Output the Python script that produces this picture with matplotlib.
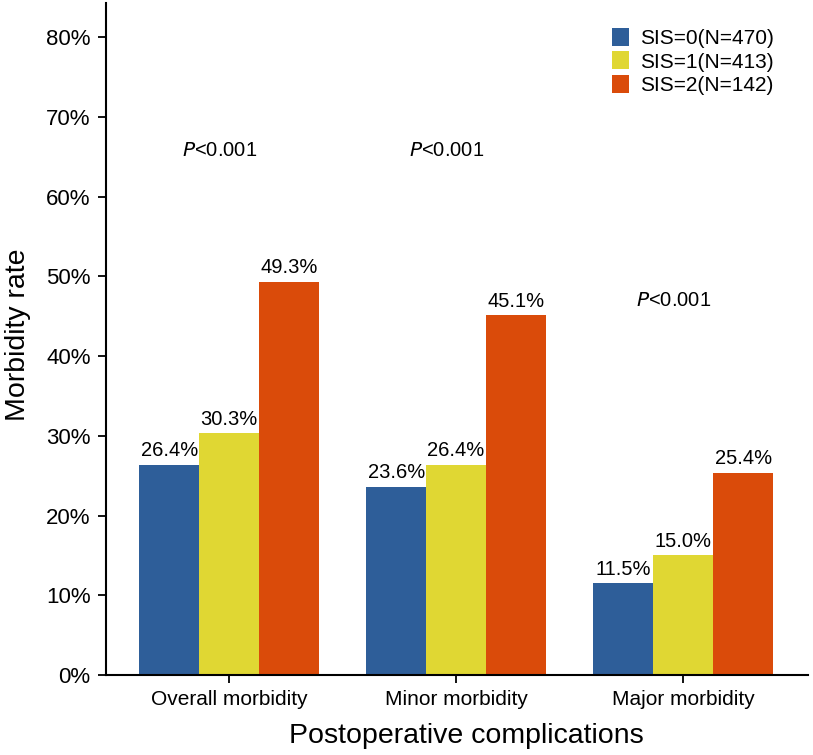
"""Grouped bar chart: morbidity rate by SIS group."""

import matplotlib
matplotlib.use("Agg")
import matplotlib.pyplot as plt
import numpy as np
from matplotlib.ticker import FuncFormatter

plt.rcParams["font.family"] = ["Liberation Sans", "DejaVu Sans"]

categories = ["Overall morbidity", "Minor morbidity", "Major morbidity"]
series_labels = ["SIS=0(N=470)", "SIS=1(N=413)", "SIS=2(N=142)"]
sis0 = [26.4, 23.6, 11.5]
sis1 = [30.3, 26.4, 15.0]
sis2 = [49.3, 45.1, 25.4]
p_labels = ["<0.001", "<0.001", "<0.001"]
p_heights = [65.8, 65.8, 47.0]

COLORS = ["#2E5E99", "#E0D733", "#DA4B0A"]


def main() -> None:
    fig = plt.figure(figsize=(8.13, 7.55), dpi=100)
    ax = fig.add_axes([0.1304, 0.106, 0.8635, 0.89])

    x = np.arange(len(categories))
    width = 0.264
    for i, (vals, label, color) in enumerate(zip([sis0, sis1, sis2], series_labels, COLORS)):
        pos = x + (i - 1) * width
        ax.bar(pos, vals, width, color=color, label=label, linewidth=0)
        for xp, v in zip(pos, vals):
            ax.text(xp, v + 0.6, f"{v:.1f}%", ha="center", va="bottom", fontsize=14.5)

    for xc, txt, h in zip(x, p_labels, p_heights):
        ax.text(xc - 0.04, h, r"$\it{P}$" + txt, ha="center", va="center", fontsize=14.5)

    ax.set_xlim(-0.542, 2.55)
    ax.set_ylim(0, 84.3)
    ax.set_yticks(np.arange(0, 81, 10))
    ax.yaxis.set_major_formatter(FuncFormatter(lambda v, _: f"{v:.0f}%"))
    ax.set_xticks(x)
    ax.set_xticklabels(categories)
    ax.tick_params(axis="both", direction="out", length=6, width=1.3)
    ax.tick_params(axis="y", labelsize=16, pad=5)
    ax.tick_params(axis="x", labelsize=15, pad=5)

    ax.spines["top"].set_visible(False)
    ax.spines["right"].set_visible(False)
    for side in ("left", "bottom"):
        ax.spines[side].set_linewidth(1.5)

    ax.set_ylabel("Morbidity rate", fontsize=20.5, labelpad=11, y=0.507)
    ax.set_xlabel("Postoperative complications", fontsize=20.5, labelpad=10, x=0.514)

    ax.legend(loc="upper right", bbox_to_anchor=(0.963, 0.975), frameon=False,
              fontsize=15, handlelength=0.85, handleheight=0.95, handletextpad=0.5,
              labelspacing=0.15, borderaxespad=0)

    fig.savefig("out.png", dpi=100)
    plt.close(fig)


if __name__ == "__main__":
    main()
